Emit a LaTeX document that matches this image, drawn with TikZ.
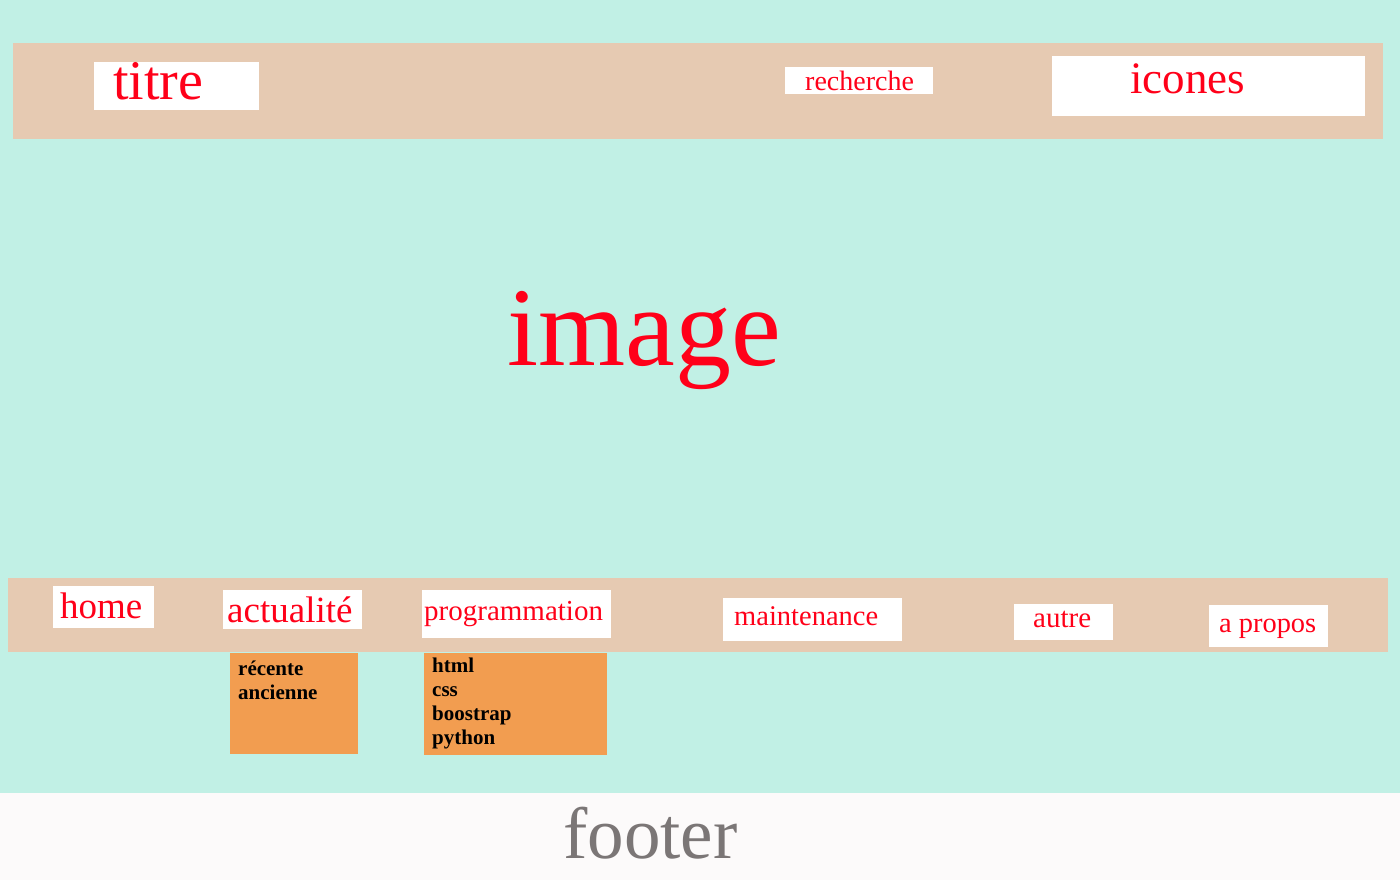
\documentclass[tikz,border=0pt]{standalone}
\usepackage{fontspec}
\setmainfont{Liberation Serif}
\usetikzlibrary{positioning}
\definecolor{fond}{HTML}{C1F0E5}
\definecolor{bandeau}{HTML}{E6CAB2}
\definecolor{sousmenu}{HTML}{F29D50}
\definecolor{rouge}{HTML}{FF0019}
\definecolor{piedfond}{HTML}{FCFAFA}
\definecolor{piedtexte}{HTML}{7B7676}

\begin{document}
\begin{tikzpicture}[x=1pt,y=-1pt]
\tikzstyle{every node}+=[inner sep=0pt, anchor=base west]
\tikzstyle{lien}=[text=rouge]
\tikzstyle{choix}=[text=black, font=\fontsize{21}{24}\selectfont\bfseries]
\useasboundingbox (0,0) rectangle (1400,880);
\fill [fond] (0,0) rectangle (1400,880);
\fill [bandeau] (13,43) rectangle (1383,139);
\fill [white] (94,62) rectangle (259,110);
\draw (113,100) node [lien, font=\fontsize{56}{64}\selectfont] (titre) {titre};
\fill [white] (785,67) rectangle (933,94);
\draw (805,91) node [lien, font=\fontsize{28}{32}\selectfont] (recherche) {recherche};
\fill [white] (1052,56) rectangle (1365,116);
\draw (1130,94) node [lien, font=\fontsize{45}{52}\selectfont] (icones) {icones};
\draw (507,365) node [lien, font=\fontsize{112}{130}\selectfont] (image) {image};
\fill [bandeau] (8,578) rectangle (1388,652);
\fill [white] (53,586) rectangle (154,628);
\draw (60,618) node [lien, font=\fontsize{37}{44}\selectfont] (home) {home};
\fill [white] (223,590) rectangle (362,629);
\draw (227,622) node [lien, font=\fontsize{37}{44}\selectfont] (actu) {actualité};
\fill [white] (422,590) rectangle (611,638);
\draw (424,620) node [lien, font=\fontsize{29}{34}\selectfont] (prog) {programmation};
\fill [white] (723,598) rectangle (902,641);
\draw (734,625) node [lien, font=\fontsize{28.5}{34}\selectfont] (maint) {maintenance};
\fill [white] (1014,604) rectangle (1113,640);
\draw (1033,627) node [lien, font=\fontsize{29}{34}\selectfont] (autre) {autre};
\fill [white] (1209,605) rectangle (1328,647);
\draw (1219,632) node [lien, font=\fontsize{28.4}{34}\selectfont] (apropos) {a propos};
\fill [sousmenu] (230,653) rectangle (358,754);
\foreach \mot [count=\i] in {récente,ancienne}
  \draw (238,651+24*\i) node [choix] (actu-\i) {\mot};
\fill [sousmenu] (424,653) rectangle (607,755);
\foreach \mot [count=\i] in {html,css,boostrap,python}
  \draw (432,648+24*\i) node [choix] (prog-\i) {\mot};
\fill [piedfond] (0,793) rectangle (1400,880);
\draw (563,858) node [text=piedtexte, font=\fontsize{73}{84}\selectfont] (footer) {footer};
\end{tikzpicture}
\end{document}
